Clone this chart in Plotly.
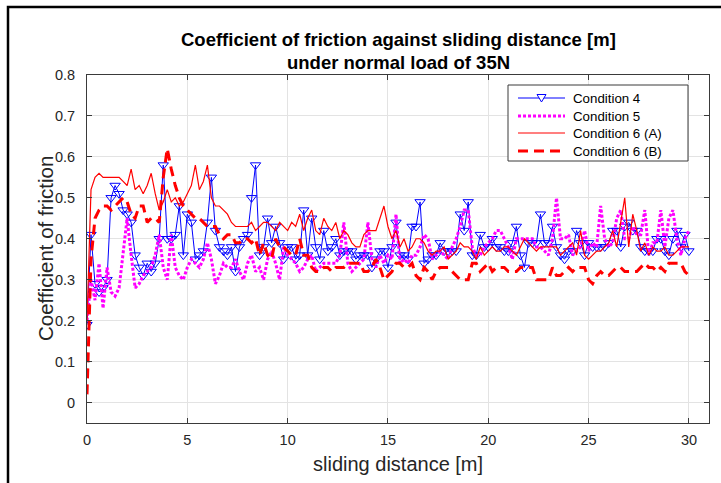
import numpy as np
import plotly.graph_objects as go

# ---- data (coefficient of friction, sampled every 0.2 m from 0 to 30 m) ----
cond4 = [0.19,0.41,0.29,0.27,0.28,0.30,0.50,0.53,0.51,0.47, 0.46,0.44,0.36,0.33,0.31,0.34,0.32,0.34,0.40,0.58,
         0.40,0.40,0.41,0.48,0.36,0.46,0.44,0.35,0.36,0.37, 0.44,0.55,0.42,0.38,0.37,0.36,0.38,0.32,0.38,0.40,
         0.41,0.50,0.58,
         0.36,0.38,0.45,0.39,0.43,0.39,0.35,0.38,0.38,0.35, 0.36,0.47,0.36,0.45,0.38,0.35,0.42,0.37,0.38,0.40,
         0.36,0.37,0.37,0.37,0.35,0.36,0.36,0.36,0.33,0.35, 0.37,0.37,0.33,0.38,0.44,0.36,0.36,0.35,0.43,0.43,
         0.49,0.34,0.35,0.36,0.36,0.39,0.37,0.37,0.37,0.37, 0.46,0.42,0.49,0.36,0.36,0.41,0.38,
         0.38,0.40,0.38,0.38,0.37,0.37,0.39,0.43,0.36,0.33, 0.39,0.39,0.39,0.46,0.39,0.39,0.43,0.38,0.36,0.35,
         0.37,0.37,0.42,
         0.39,0.36,0.39,0.38,0.38,0.38,0.38,0.39,0.42,0.42, 0.38,0.43,0.44,0.42,0.42,0.38,0.37,0.37,0.37,0.40,
         0.40,0.37,0.36,0.40,0.42,0.38,0.41,0.37]

cond5 = [0.20,0.30,0.25,0.34,0.23,0.33,0.27,0.26,0.28,0.36, 0.45,0.36,0.28,0.29,0.31,0.32,0.33,0.36,0.41,0.33,
         0.30,0.41,0.33,0.31,0.30,0.33,0.35,0.34,0.33,0.35, 0.39,0.35,0.29,0.31,0.34,0.33,0.33,0.35,0.32,0.30,
         0.34,0.36,0.32,
         0.33,0.30,0.35,0.37,0.34,0.30,0.38,0.36,0.35,0.34, 0.32,0.33,0.35,0.36,0.32,0.33,0.34,0.34,0.34,0.34,
         0.36,0.44,0.34,0.32,0.33,0.34,0.35,0.44,0.35,0.33, 0.36,0.34,0.36,0.35,0.46,0.34,0.35,0.34,0.36,0.36,
         0.38,0.41,0.40,0.35,0.36,0.37,0.36,0.35,0.38,0.40, 0.43,0.47,0.47,0.38,0.36,0.36,0.38,0.39,0.40,0.42,
         0.42,0.40,0.38,0.35,0.40,0.40,0.40,0.40,0.40,0.38, 0.38,0.37,0.36,0.40,0.50,0.40,0.40,0.41,0.36,0.37,
         0.38,0.42,0.37,0.39,0.38,0.48,0.40,0.38,0.39,0.45, 0.47,0.40,0.40,0.43,0.41,0.41,0.47,0.36,0.39,0.39,
         0.47,0.38,0.45,0.47,0.40,0.36,0.40,0.42]

cond6a = [0.20,0.52,0.55,0.56,0.55,0.55,0.55,0.55,0.55,0.54, 0.53,0.57,0.52,0.53,0.51,0.53,0.56,0.51,0.47,0.49,
          0.52,0.49,0.50,0.48,0.49,0.51,0.53,0.58,0.52,0.54, 0.58,0.50,0.48,0.48,0.47,0.46,0.44,0.43,0.43,0.43,
          0.43,0.44,0.42,
          0.43,0.44,0.44,0.43,0.42,0.44,0.43,0.42,0.44,0.43, 0.46,0.42,0.45,0.47,0.42,0.41,0.45,0.43,0.42,0.44,
          0.40,0.42,0.41,0.39,0.38,0.38,0.41,0.42,0.42,0.42, 0.45,0.48,0.43,0.40,0.42,0.38,0.40,0.37,0.38,0.40,
          0.40,0.39,0.37,0.36,0.37,0.37,0.38,0.35,0.36,0.37, 0.39,0.38,0.38,0.37,0.35,0.38,0.36,0.37,0.38,0.37,
          0.37,0.38,0.38,0.37,0.36,0.38,0.40,0.39,0.38,0.37, 0.38,0.38,0.38,0.38,0.38,0.36,0.37,0.38,0.39,0.36,
          0.42,0.36,0.35,0.36,0.37,0.37,0.38,0.39,0.42,0.38, 0.44,0.50,0.38,0.46,0.42,0.37,0.39,0.36,0.38,0.37,
          0.37,0.38,0.36,0.36,0.37,0.38,0.38,0.38]

cond6b = [0.02,0.35,0.45,0.47,0.48,0.48,0.47,0.48,0.49,0.50, 0.49,0.46,0.45,0.48,0.48,0.44,0.45,0.45,0.44,0.55,
          0.62,0.57,0.53,0.50,0.48,0.47,0.46,0.45,0.45,0.44, 0.43,0.43,0.43,0.41,0.40,0.41,0.41,0.39,0.39,0.40,
          0.40,0.39,0.40,
          0.36,0.39,0.36,0.35,0.40,0.38,0.38,0.37,0.36,0.36, 0.40,0.36,0.36,0.33,0.32,0.32,0.33,0.33,0.32,0.33,
          0.33,0.33,0.34,0.34,0.34,0.34,0.32,0.32,0.33,0.35, 0.33,0.30,0.31,0.32,0.34,0.34,0.33,0.33,0.34,0.31,
          0.30,0.33,0.32,0.30,0.32,0.33,0.33,0.33,0.32,0.31, 0.30,0.30,0.30,0.34,0.34,0.32,0.33,0.34,0.32,0.33,
          0.33,0.33,0.32,0.32,0.32,0.33,0.33,0.33,0.33,0.30, 0.30,0.30,0.30,0.33,0.31,0.31,0.32,0.33,0.32,0.33,
          0.33,0.33,0.30,0.29,0.31,0.32,0.31,0.31,0.32,0.33, 0.33,0.32,0.32,0.32,0.32,0.33,0.34,0.33,0.33,0.32,
          0.33,0.32,0.34,0.34,0.34,0.34,0.32,0.31]

series_names = ["Condition 4", "Condition 5", "Condition 6 (A)", "Condition 6 (B)"]
x_ticks = [0, 5, 10, 15, 20, 25, 30]
y_ticks = [0, 0.1, 0.2, 0.3, 0.4, 0.5, 0.6, 0.7, 0.8]


def dist(vals):
    return np.linspace(0, 30, len(vals))


FONT = "Liberation Sans, Arial, Helvetica, sans-serif"

# plot area in pixels: x 87..709, y 75..423
PL, PR, PT, PB = 87, 709, 75, 423
PW, PH = PR - PL, PB - PT


def px(xpix):
    return (xpix - PL) / PW


def py(ypix):
    return (PB - ypix) / PH


styles = [
    dict(color="#0000ff", width=1, dash="solid"),
    dict(color="#ff00ff", width=3, dash="3px,2px"),
    dict(color="#ff0000", width=1.2, dash="solid"),
    dict(color="#ff0000", width=3, dash="10px,6px"),
]

fig = go.Figure()
fig.add_trace(go.Scatter(x=dist(cond4), y=cond4, name=series_names[0], mode="lines+markers",
                         line=styles[0],
                         marker=dict(symbol="triangle-down-open", size=9, color="#0000ff",
                                     line=dict(width=1, color="#0000ff"))))
fig.add_trace(go.Scatter(x=dist(cond5), y=cond5, name=series_names[1], mode="lines", line=styles[1]))
fig.add_trace(go.Scatter(x=dist(cond6a), y=cond6a, name=series_names[2], mode="lines", line=styles[2]))
fig.add_trace(go.Scatter(x=dist(cond6b), y=cond6b, name=series_names[3], mode="lines", line=styles[3]))

axis_common = dict(showgrid=True, gridcolor="#e3e3e3", gridwidth=1, zeroline=False,
                   showline=True, linecolor="#3a3a3a", linewidth=1, mirror="ticks",
                   ticks="inside", ticklen=5, tickcolor="#3a3a3a",
                   tickfont=dict(family=FONT, size=14.5, color="#262626"))

fig.update_xaxes(range=[0, 31], tickvals=x_ticks, ticklabelstandoff=4, **axis_common)
fig.update_yaxes(range=[-0.05, 0.8], tickvals=y_ticks, ticktext=[f"{v:g}" for v in y_ticks],
                 ticklabelstandoff=8, **axis_common)

annotations = [
    dict(text="<b>Coefficient of friction against sliding distance [m]</b>", x=0.5, y=py(40),
         xref="paper", yref="paper", showarrow=False, xanchor="center", yanchor="middle",
         font=dict(family=FONT, size=18.5, color="black")),
    dict(text="<b>under normal load of 35N</b>", x=0.5, y=py(62),
         xref="paper", yref="paper", showarrow=False, xanchor="center", yanchor="middle",
         font=dict(family=FONT, size=18.5, color="black")),
    dict(text="sliding distance [m]", x=0.5, y=py(464),
         xref="paper", yref="paper", showarrow=False, xanchor="center", yanchor="middle",
         font=dict(family=FONT, size=20, color="#262626")),
    dict(text="Coefficient of friction", x=px(45), y=0.5, textangle=-90,
         xref="paper", yref="paper", showarrow=False, xanchor="center", yanchor="middle",
         font=dict(family=FONT, size=20.5, color="#262626")),
]

shapes = [dict(type="rect", xref="paper", yref="paper",
               x0=px(8), x1=px(730), y0=py(495), y1=py(7),
               line=dict(color="black", width=2.5), fillcolor="rgba(0,0,0,0)", layer="above")]

# ---- legend box (MATLAB style) ----
LEG_L, LEG_R, LEG_T, LEG_B = 508, 688, 85, 161
row_y = [98, 116, 133, 151]
shapes.append(dict(type="rect", xref="paper", yref="paper",
                   x0=px(LEG_L), x1=px(LEG_R), y0=py(LEG_B), y1=py(LEG_T),
                   line=dict(color="#3a3a3a", width=1), fillcolor="white", layer="above"))
for name, st, ry in zip(series_names, styles, row_y):
    shapes.append(dict(type="line", xref="paper", yref="paper",
                       x0=px(518), x1=px(565), y0=py(ry), y1=py(ry),
                       line=dict(color=st["color"], width=st["width"], dash=st["dash"]), layer="above"))
    annotations.append(dict(text=name, x=px(571), y=py(ry), xref="paper", yref="paper",
                            showarrow=False, xanchor="left", yanchor="middle",
                            font=dict(family=FONT, size=13.3, color="black")))
# triangle marker on the Condition 4 legend line
tx, ty = 541.5, row_y[0]
tri = (f"M {px(tx - 4.5)},{py(ty - 3.5)} L {px(tx + 4.5)},{py(ty - 3.5)} "
       f"L {px(tx)},{py(ty + 4)} Z")
shapes.append(dict(type="path", xref="paper", yref="paper", path=tri,
                   line=dict(color="#0000ff", width=1), fillcolor="white", layer="above"))

fig.update_layout(
    width=721, height=483,
    margin=dict(l=PL, r=721 - PR, t=PT, b=483 - PB),
    paper_bgcolor="white", plot_bgcolor="white",
    annotations=annotations, shapes=shapes,
    showlegend=False,
)

fig.write_html("out.html")
